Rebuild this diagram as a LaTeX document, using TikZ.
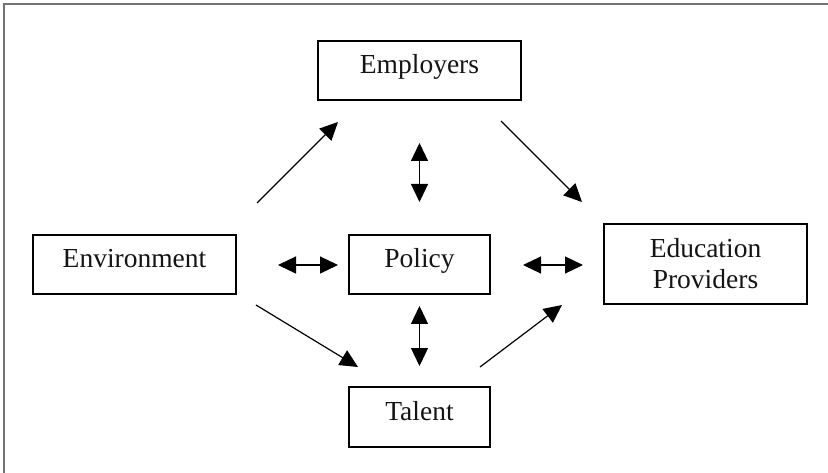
\documentclass[tikz,border=0pt]{standalone}
\usepackage{fontspec}
\setmainfont{Liberation Serif}
\usetikzlibrary{arrows.meta}
\begin{document}
\begin{tikzpicture}[x=1pt,y=-1pt,
  box/.style={draw=black, line width=1.6pt, rectangle, inner sep=0pt,
    font=\fontsize{27.5}{31}\selectfont, text=black!92, align=center,
    text height=14pt, text depth=8pt},
  wide/.style={box, minimum width=203pt, minimum height=59pt},
  narrow/.style={box, minimum width=141pt, minimum height=59pt},
  tip/.tip={Triangle[length=18pt,width=17pt]},
  link/.style={line width=1.2pt, -tip},
  both/.style={line width=1.2pt, tip-tip},
  frame/.style={draw=black!55, line width=2pt}]
\useasboundingbox (0,0) rectangle (828,473);
% outer frame
\draw[frame] (3.7,473) -- (3.7,4.5) -- (828,4.5);

% boxes
\node[wide]   (emp) at (419.5,70.5) {Employers};
\node[wide]   (env) at (134.5,264.5) {Environment};
\node[narrow] (pol) at (419.5,264.5) {Policy};
\node[wide, minimum height=80pt, text height=, text depth=] (edu) at (705.5,264) {Education\\Providers};
\node[narrow, minimum height=60pt] (tal) at (419.5,417) {Talent};

% connector end points
\coordinate (a1s) at (257,203);   \coordinate (a1e) at (338,122);
\coordinate (a2s) at (501,121);   \coordinate (a2e) at (582,202);
\coordinate (a3s) at (419.5,143); \coordinate (a3e) at (419.5,202);
\coordinate (a4s) at (278,265);   \coordinate (a4e) at (338,265);
\coordinate (a5s) at (523,265);   \coordinate (a5e) at (583,265);
\coordinate (a6s) at (419.5,306); \coordinate (a6e) at (419.5,366);
\coordinate (a7s) at (256,305);   \coordinate (a7e) at (358,367);
\coordinate (a8s) at (480,367);   \coordinate (a8e) at (562,305);

% connectors
\draw[link] (a1s) -- (a1e);
\draw[link] (a2s) -- (a2e);
\draw[both] (a3s) -- (a3e);
\draw[both] (a4s) -- (a4e);
\draw[both] (a5s) -- (a5e);
\draw[both] (a6s) -- (a6e);
\draw[link] (a7s) -- (a7e);
\draw[link] (a8s) -- (a8e);
\end{tikzpicture}
\end{document}
